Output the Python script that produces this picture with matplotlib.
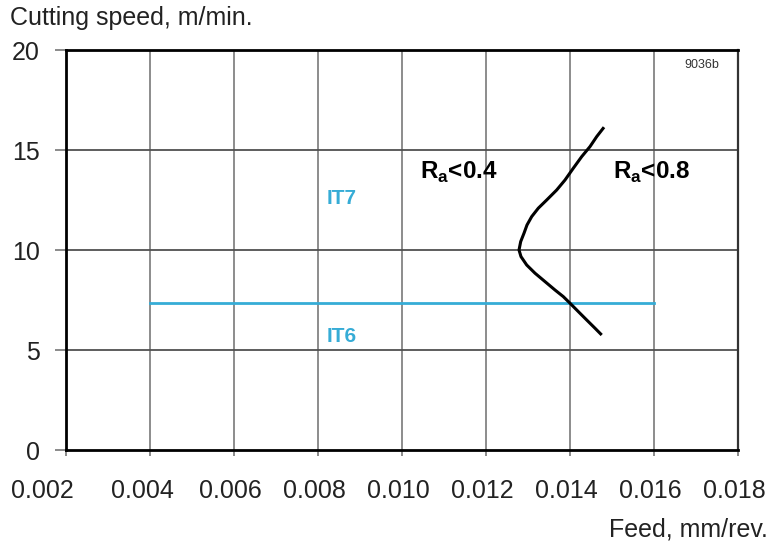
import matplotlib
matplotlib.use("Agg")
import matplotlib.pyplot as plt
import matplotlib.transforms as mtransforms
import numpy as np

plt.rcParams['font.family'] = ['Liberation Sans', 'DejaVu Sans']
plt.rcParams['mathtext.fontset'] = 'custom'
plt.rcParams['mathtext.rm'] = 'Liberation Sans'
plt.rcParams['mathtext.bf'] = 'Liberation Sans:bold'

# values
x_ticks = [0.002, 0.004, 0.006, 0.008, 0.010, 0.012, 0.014, 0.016, 0.018]
x_tick_labels = ["0.002", "0.004", "0.006", "0.008", "0.010", "0.012", "0.014", "0.016", "0.018"]
y_ticks = [0, 5, 10, 15, 20]

it_feed = [0.004, 0.016]
it_speed = [7.35, 7.35]

ra_feed = [0.014810, 0.014636, 0.014476, 0.014279, 0.014079, 0.013881, 0.013683,
           0.013445, 0.013245, 0.013088, 0.012976, 0.012905, 0.012826, 0.012786,
           0.012833, 0.012969, 0.013167, 0.013405, 0.013643, 0.013840, 0.014000,
           0.014198, 0.014398, 0.014595, 0.014755]
ra_speed = [16.14, 15.67, 15.17, 14.67, 14.09, 13.5, 13.0,
            12.5, 12.09, 11.67, 11.25, 10.84, 10.42, 10.0,
            9.67, 9.25, 8.84, 8.42, 8.0, 7.67, 7.34,
            6.92, 6.5, 6.09, 5.75]

cyan = "#36acd6"

fig = plt.figure(figsize=(7.71, 5.41), dpi=100)
ax = fig.add_axes([66/771, 91/541, 672/771, 400/541])

ax.set_xlim(0.002, 0.018)
ax.set_ylim(0, 20)

# grid
for xv in x_ticks[1:-1]:
    ax.axvline(xv, color="#8c8c8c", lw=1.4, zorder=1)
for yv in y_ticks[1:-1]:
    ax.axhline(yv, color="#505050", lw=1.3, zorder=1)

ax.plot(it_feed, it_speed, color=cyan, lw=2.0, zorder=3)
ax.plot(ra_feed, ra_speed, color="black", lw=2.2, zorder=4,
        solid_capstyle="butt", solid_joinstyle="round")

ax.text(0.00857, 12.6, "IT7", color=cyan, fontsize=15, fontweight="bold", ha="center", va="center")
ax.text(0.00857, 5.65, "IT6", color=cyan, fontsize=15, fontweight="bold", ha="center", va="center")
ax.text(0.01136, 13.9, r"R$_\mathbf{a}$<0.4", fontsize=17.5, fontweight="bold", ha="center", va="center")
ax.text(0.01595, 13.9, r"R$_\mathbf{a}$<0.8", fontsize=17.5, fontweight="bold", ha="center", va="center")
ax.text(0.01714, 19.25, "9036b", color="#333333", fontsize=9, ha="center", va="center")

for side in ["left", "bottom", "top"]:
    ax.spines[side].set_linewidth(2.0)
    ax.spines[side].set_color("black")
ax.spines["right"].set_linewidth(1.6)
ax.spines["right"].set_color("#333333")

ax.set_xticks(x_ticks)
ax.set_xticklabels(x_tick_labels)
ax.set_yticks(y_ticks)
ax.tick_params(axis="x", length=4, width=1.2, color="#777777", pad=17, labelsize=18, labelcolor="#222222")
ax.tick_params(axis="y", length=8, width=1.2, color="#777777", pad=11, labelsize=18, labelcolor="#222222")

# nudge the x labels a little to the left, the first one a lot
for i, lab in enumerate(ax.get_xticklabels()):
    dx = -24 if i == 0 else (-8 if i == 1 else -4)
    lab.set_transform(lab.get_transform() + mtransforms.ScaledTranslation(dx/100, 0, fig.dpi_scale_trans))

fig.text(10/771, 1 - 6/541, "Cutting speed, m/min.", fontsize=18, color="#222222", ha="left", va="top")
fig.text(768/771, 1 - 536/541, "Feed, mm/rev.", fontsize=18, color="#222222", ha="right", va="baseline")

fig.savefig("out.png", dpi=100)
